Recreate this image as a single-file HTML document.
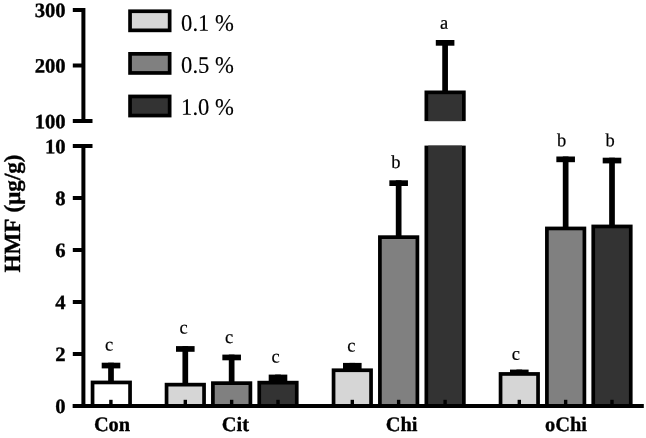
<!DOCTYPE html><html><head><meta charset="utf-8"><title>HMF</title>
<style>html,body{margin:0;padding:0;background:#fff}svg{display:block}text{font-family:"Liberation Serif","Times New Roman",serif;fill:#000;text-rendering:geometricPrecision}.b{font-weight:bold;font-size:21px;stroke:#000;stroke-width:0.35px}.s{font-size:18.5px;stroke:#000;stroke-width:0.2px}.l{font-size:23.6px;stroke:#000;stroke-width:0.15px}</style></head><body>
<svg width="646" height="438" viewBox="0 0 646 438">
<rect width="646" height="438" fill="#fff"/>
<rect x="108.15" y="362.70" width="5.70" height="18.90"/>
<rect x="101.70" y="362.70" width="18.60" height="5.70"/>
<rect x="92.55" y="382.45" width="37.50" height="23.40" fill="#ffffff" stroke="#000" stroke-width="3.7"/>
<rect x="182.45" y="346.10" width="5.70" height="37.70"/>
<rect x="176.00" y="346.10" width="18.60" height="5.70"/>
<rect x="166.55" y="384.65" width="37.50" height="21.20" fill="#d6d6d6" stroke="#000" stroke-width="3.7"/>
<rect x="228.80" y="354.60" width="5.70" height="27.70"/>
<rect x="222.35" y="354.60" width="18.60" height="5.70"/>
<rect x="212.90" y="383.15" width="37.50" height="22.70" fill="#808080" stroke="#000" stroke-width="3.7"/>
<rect x="275.15" y="374.60" width="5.70" height="7.20"/>
<rect x="268.70" y="374.60" width="18.60" height="7.20"/>
<rect x="259.25" y="382.65" width="37.50" height="23.20" fill="#333333" stroke="#000" stroke-width="3.7"/>
<rect x="349.45" y="362.90" width="5.70" height="6.50"/>
<rect x="343.00" y="362.90" width="18.60" height="6.50"/>
<rect x="333.55" y="370.25" width="37.50" height="35.60" fill="#d6d6d6" stroke="#000" stroke-width="3.7"/>
<rect x="395.80" y="180.30" width="5.70" height="56.00"/>
<rect x="389.35" y="180.30" width="18.60" height="5.70"/>
<rect x="379.90" y="237.15" width="37.50" height="168.70" fill="#808080" stroke="#000" stroke-width="3.7"/>
<rect x="562.80" y="156.50" width="5.70" height="71.10"/>
<rect x="556.35" y="156.50" width="18.60" height="5.70"/>
<rect x="546.90" y="228.45" width="37.50" height="177.40" fill="#808080" stroke="#000" stroke-width="3.7"/>
<rect x="609.15" y="157.70" width="5.70" height="67.90"/>
<rect x="602.70" y="157.70" width="18.60" height="5.70"/>
<rect x="593.25" y="226.45" width="37.50" height="179.40" fill="#333333" stroke="#000" stroke-width="3.7"/>
<rect x="516.45" y="369.60" width="5.70" height="3.50"/>
<rect x="510.00" y="369.60" width="18.60" height="3.50"/>
<rect x="500.55" y="373.95" width="37.50" height="31.90" fill="#d6d6d6" stroke="#000" stroke-width="3.7"/>
<rect x="424.50" y="145.6" width="41.20" height="260" fill="#000"/>
<rect x="428.20" y="145.6" width="33.80" height="260" fill="#333333"/>
<rect x="442.25" y="40" width="5.70" height="52"/>
<rect x="435.80" y="40" width="18.6" height="5.7"/>
<rect x="424.50" y="90.5" width="41.20" height="30.6" fill="#000"/>
<rect x="428.20" y="94.20" width="33.80" height="26.90" fill="#333333"/>
<rect x="109.20" y="399.8" width="3.4" height="5"/>
<rect x="183.60" y="399.8" width="3.4" height="5"/>
<rect x="229.95" y="399.8" width="3.4" height="5"/>
<rect x="276.30" y="399.8" width="3.4" height="5"/>
<rect x="350.60" y="399.8" width="3.4" height="5"/>
<rect x="396.95" y="399.8" width="3.4" height="5"/>
<rect x="443.40" y="399.8" width="3.4" height="5"/>
<rect x="517.60" y="399.8" width="3.4" height="5"/>
<rect x="563.95" y="399.8" width="3.4" height="5"/>
<rect x="610.30" y="399.8" width="3.4" height="5"/>
<rect x="72.8" y="404" width="571" height="4"/>
<rect x="81.4" y="144" width="4" height="262"/>
<rect x="81.4" y="8" width="4" height="115"/>
<rect x="72.8" y="404.00" width="10" height="4"/>
<rect x="72.8" y="352.00" width="10" height="4"/>
<rect x="72.8" y="300.00" width="10" height="4"/>
<rect x="72.8" y="248.00" width="10" height="4"/>
<rect x="72.8" y="196.00" width="10" height="4"/>
<rect x="72.8" y="144" width="19.7" height="4"/>
<rect x="72.8" y="119" width="19.7" height="4"/>
<rect x="72.8" y="63.5" width="10" height="4"/>
<rect x="72.8" y="8" width="10" height="4"/>
<text class="b" transform="translate(65.7,17.00) matrix(1.02 0.0006 0 1 0 0)" text-anchor="end" style="font-size:20.3px">300</text>
<text class="b" transform="translate(65.7,72.40) matrix(1.02 0.0006 0 1 0 0)" text-anchor="end" style="font-size:20.3px">200</text>
<text class="b" transform="translate(65.7,128.20) matrix(1.02 0.0006 0 1 0 0)" text-anchor="end" style="font-size:20.3px">100</text>
<text class="b" transform="translate(65.7,153.20) matrix(1.02 0.0006 0 1 0 0)" text-anchor="end" style="font-size:20.3px">10</text>
<text class="b" transform="translate(65.7,205.10) matrix(1.02 0.0006 0 1 0 0)" text-anchor="end" style="font-size:20.3px">8</text>
<text class="b" transform="translate(65.7,257.10) matrix(1.02 0.0006 0 1 0 0)" text-anchor="end" style="font-size:20.3px">6</text>
<text class="b" transform="translate(65.7,309.10) matrix(1.02 0.0006 0 1 0 0)" text-anchor="end" style="font-size:20.3px">4</text>
<text class="b" transform="translate(65.7,361.10) matrix(1.02 0.0006 0 1 0 0)" text-anchor="end" style="font-size:20.3px">2</text>
<text class="b" transform="translate(65.7,413.10) matrix(1.02 0.0006 0 1 0 0)" text-anchor="end" style="font-size:20.3px">0</text>
<text class="b" transform="translate(20.0,272.4) rotate(-90) matrix(1 0.0006 0 1 0 0)" style="font-size:23.1px;word-spacing:1.2px">HMF (μg/g)</text>
<text class="b" transform="translate(112.0,431.0) matrix(1 0.0006 0 1 0 0)" text-anchor="middle" style="font-size:20.4px">Con</text>
<text class="b" transform="translate(235.4,431.0) matrix(1 0.0006 0 1 0 0)" text-anchor="middle" style="font-size:20.4px">Cit</text>
<text class="b" transform="translate(401.6,431.0) matrix(1 0.0006 0 1 0 0)" text-anchor="middle" style="font-size:20.4px">Chi</text>
<text class="b" transform="translate(566.0,431.0) matrix(1 0.0006 0 1 0 0)" text-anchor="middle" style="font-size:20.4px">oChi</text>
<text class="s" transform="translate(109.2,350.4) matrix(1 0.0006 0 1 0 0)" text-anchor="middle">c</text>
<text class="s" transform="translate(183.6,333.4) matrix(1 0.0006 0 1 0 0)" text-anchor="middle">c</text>
<text class="s" transform="translate(229.0,343.0) matrix(1 0.0006 0 1 0 0)" text-anchor="middle">c</text>
<text class="s" transform="translate(275.7,362.6) matrix(1 0.0006 0 1 0 0)" text-anchor="middle">c</text>
<text class="s" transform="translate(351.3,351.5) matrix(1 0.0006 0 1 0 0)" text-anchor="middle">c</text>
<text class="s" transform="translate(395.8,168.0) matrix(1 0.0006 0 1 0 0)" text-anchor="middle">b</text>
<text class="s" transform="translate(444.0,28.8) matrix(1 0.0006 0 1 0 0)" text-anchor="middle">a</text>
<text class="s" transform="translate(515.8,359.8) matrix(1 0.0006 0 1 0 0)" text-anchor="middle">c</text>
<text class="s" transform="translate(561.5,146.2) matrix(1 0.0006 0 1 0 0)" text-anchor="middle">b</text>
<text class="s" transform="translate(610.2,146.2) matrix(1 0.0006 0 1 0 0)" text-anchor="middle">b</text>
<rect x="130.05" y="11.25" width="39.60" height="19.10" fill="#d6d6d6" stroke="#000" stroke-width="3.7"/>
<text class="l" transform="translate(181.1,30.80) matrix(1 0.0006 0 1 0 0)" textLength="52.8" lengthAdjust="spacingAndGlyphs">0.1 %</text>
<rect x="130.05" y="53.85" width="39.60" height="19.10" fill="#808080" stroke="#000" stroke-width="3.7"/>
<text class="l" transform="translate(181.1,72.80) matrix(1 0.0006 0 1 0 0)" textLength="52.8" lengthAdjust="spacingAndGlyphs">0.5 %</text>
<rect x="130.05" y="96.45" width="39.60" height="19.10" fill="#333333" stroke="#000" stroke-width="3.7"/>
<text class="l" transform="translate(181.1,114.80) matrix(1 0.0006 0 1 0 0)" textLength="52.8" lengthAdjust="spacingAndGlyphs">1.0 %</text>
</svg></body></html>
